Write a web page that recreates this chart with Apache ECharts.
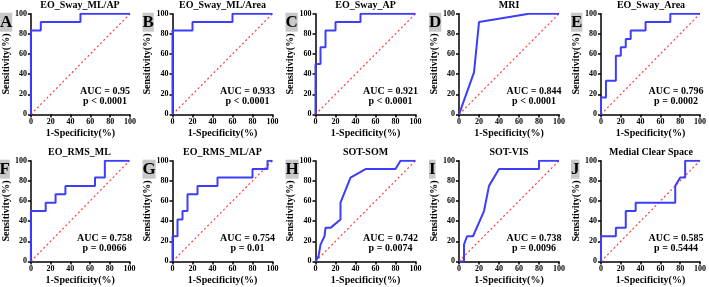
<!DOCTYPE html>
<html>
<head>
<meta charset="utf-8">
<script src="https://cdn.jsdelivr.net/npm/echarts@6/dist/echarts.min.js"></script>
<style>
html, body { margin: 0; padding: 0; background: #fff; }
#roc { width: 709px; height: 287px; }
</style>
</head>
<body>
<div id="roc"></div>
<script>
// panel texts
var panelTitles = ['EO_Sway_ML/AP', 'EO_Sway_ML/Area', 'EO_Sway_AP', 'MRI', 'EO_Sway_Area',
                   'EO_RMS_ML', 'EO_RMS_ML/AP', 'SOT-SOM', 'SOT-VIS', 'Medial Clear Space'];
var panelLetters = ['A', 'B', 'C', 'D', 'E', 'F', 'G', 'H', 'I', 'J'];
var aucLabels = ['AUC = 0.95', 'AUC = 0.933', 'AUC = 0.921', 'AUC = 0.844', 'AUC = 0.796',
                 'AUC = 0.758', 'AUC = 0.754', 'AUC = 0.742', 'AUC = 0.738', 'AUC = 0.585'];
var pLabels = ['p < 0.0001', 'p < 0.0001', 'p < 0.0001', 'p < 0.0001', 'p = 0.0002',
               'p = 0.0066', 'p = 0.01', 'p = 0.0074', 'p = 0.0096', 'p = 0.5444'];

// ROC curves: [1-specificity %, sensitivity %]
var rocSwayMLAP = [[0,0],[0,83.3],[10,83.3],[10,91.7],[50,91.7],[50,100],[100,100]];
var rocSwayMLArea = [[0,0],[0,83.3],[20,83.3],[20,91.7],[60,91.7],[60,100],[100,100]];
var rocSwayAP = [[0,0],[0,50],[5,50],[5,66.7],[10,66.7],[10,83.3],[20,83.3],[20,91.7],[45,91.7],[45,100],[100,100]];
var rocMRI = [[0,0],[15,41.7],[20,91.7],[70,100],[100,100]];
var rocSwayArea = [[0,0],[0,16.7],[5,16.7],[5,33.3],[15,33.3],[15,58.3],[20,58.3],[20,66.7],[25,66.7],[25,75],
                   [30,75],[30,83.3],[45,83.3],[45,91.7],[70,91.7],[70,100],[100,100]];
var rocRmsML = [[0,0],[0,50],[15,50],[15,58.3],[25,58.3],[25,66.7],[35,66.7],[35,75],[65,75],[65,83.3],
                [75,83.3],[75,100],[100,100]];
var rocRmsMLAP = [[0,0],[0,25],[5,25],[5,41.7],[10,41.7],[10,50],[15,50],[15,66.7],[25,66.7],[25,75],
                  [45,75],[45,83.3],[80,83.3],[80,91.7],[95,91.7],[95,100],[100,100]];
var rocSotSom = [[0,0],[3,5],[5,16.7],[9,25],[10,33.3],[15,33.3],[25,41.7],[25,58.3],[35,83.3],[50,91.7],
                 [80,91.7],[85,100],[100,100]];
var rocSotVis = [[0,0],[5,0],[5,16.7],[8,25],[14,25],[25,50],[30,75],[40,91.7],[80,91.7],[80,100],[100,100]];
var rocMedialClear = [[0,0],[0,25],[15,25],[15,33.3],[25,33.3],[25,50],[35,50],[35,58.3],[75,58.3],[75,75],
                      [80,83.3],[85,83.3],[85,100],[100,100]];
var rocCurves = [rocSwayMLAP, rocSwayMLArea, rocSwayAP, rocMRI, rocSwayArea,
                 rocRmsML, rocRmsMLAP, rocSotSom, rocSotVis, rocMedialClear];
var chanceLine = [[0,0],[100,100]];

// layout
var plotLeft = [30, 172.5, 315.5, 459, 601, 29.5, 172.5, 315.5, 459, 601];
var plotTop = [13.7, 160.7];
var plotW = 100, plotH = 100.7;
var serif = 'Liberation Serif';

var grids = [], xAxes = [], yAxes = [], series = [], titles = [];

function axisBase(name, gap) {
  return {
    type: 'value', min: 0, max: 100, interval: 20,
    name: name, nameLocation: 'middle', nameGap: gap,
    nameTextStyle: { fontFamily: serif, fontWeight: 'bold', fontSize: 10, color: '#000' },
    axisLine: { show: true, lineStyle: { color: '#000', width: 1.5 } },
    axisTick: { show: true, length: 3, lineStyle: { color: '#000', width: 1.5 } },
    axisLabel: { fontFamily: serif, fontWeight: 'bold', fontSize: 8, color: '#000', margin: 4 },
    splitLine: { show: false }
  };
}

for (var i = 0; i < 10; i++) {
  var row = i < 5 ? 0 : 1;
  var rowY = plotTop[row];
  grids.push({ left: plotLeft[i], top: rowY, width: plotW, height: plotH });
  var xa = axisBase('1-Specificity(%)', 14);
  xa.gridIndex = i;
  xAxes.push(xa);
  var ya = axisBase('Sensitivity(%)', 16);
  ya.gridIndex = i;
  yAxes.push(ya);

  series.push({
    type: 'line', xAxisIndex: i, yAxisIndex: i, data: chanceLine,
    showSymbol: false, silent: true, z: 2,
    lineStyle: { color: '#ff3b3b', width: 1.2, type: [2, 2.5] }
  });
  series.push({
    type: 'line', xAxisIndex: i, yAxisIndex: i, data: rocCurves[i],
    showSymbol: false, silent: true, z: 3,
    lineStyle: { color: '#3d3dfa', width: 2 }
  });

  titles.push({
    text: panelTitles[i], left: plotLeft[i] + plotW / 2, top: row ? 147 : 0.5,
    textAlign: 'center', padding: 0,
    textStyle: { fontFamily: serif, fontWeight: 'bold', fontSize: 10, color: '#000' }
  });
  titles.push({
    text: panelLetters[i], left: plotLeft[i] - 30, top: rowY - 1,
    padding: [0, 0], backgroundColor: '#c8c8c8',
    textStyle: { fontFamily: serif, fontWeight: 'bold', fontSize: 17, lineHeight: 19, color: '#000' }
  });
  titles.push({
    text: aucLabels[i] + '\n' + pLabels[i], left: plotLeft[i] + 75, top: rowY + 73,
    textAlign: 'center', padding: 0,
    textStyle: { fontFamily: serif, fontWeight: 'bold', fontSize: 10, lineHeight: 9.5, color: '#000' }
  });
}

var chart = echarts.init(document.getElementById('roc'));
chart.setOption({
  animation: false,
  backgroundColor: '#fff',
  title: titles,
  grid: grids,
  xAxis: xAxes,
  yAxis: yAxes,
  series: series
});
</script>
</body>
</html>
